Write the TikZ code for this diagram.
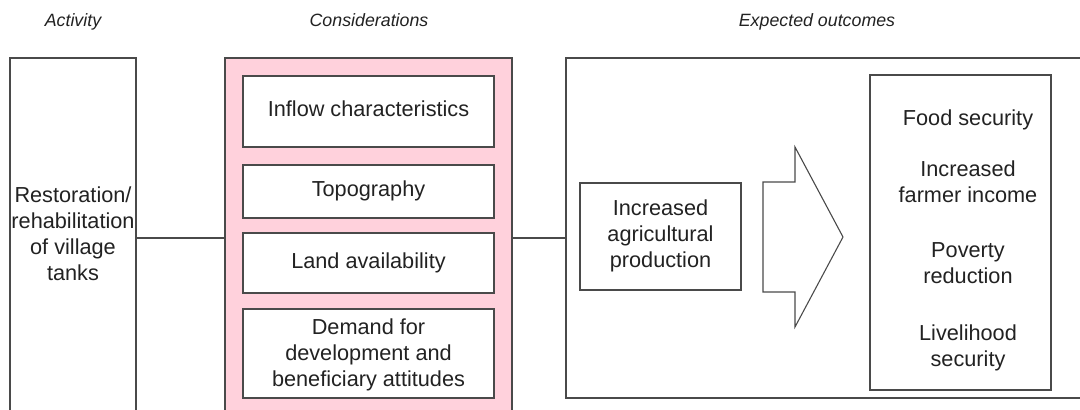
\documentclass[tikz,border=0pt]{standalone}
\usepackage{fontspec}
\setmainfont{Liberation Sans}
\definecolor{linegray}{HTML}{4A4A4A}
\definecolor{pinkfill}{HTML}{FFD1DC}
\definecolor{txtcol}{HTML}{222222}
\begin{document}
\begin{tikzpicture}[x=1pt,y=-1pt,
  box/.style={draw=linegray, line width=1.1pt, fill=white, inner sep=0pt, rectangle},
  txt/.style={font=\fontsize{21.7}{26}\selectfont, align=center, text=txtcol, inner sep=0pt},
  head/.style={font=\fontsize{17.8}{20}\selectfont\itshape, text=txtcol, inner sep=0pt, anchor=base},
  conn/.style={draw=linegray, line width=1.1pt}]
\clip (0,0) rectangle (1080,410);
\fill[white] (0,0) rectangle (1080,410);
% headers
\node[head] (h1) at (73,26) {Activity};
\node[head] (h2) at (369,26) {Considerations};
\node[head] (h3) at (817,26) {Expected outcomes};
% activity
\node[box, minimum width=126pt, minimum height=392pt] (act) at (73,254) {};
\node[txt] (actt) at (73,234) {Restoration/\\rehabilitation\\of village\\tanks};
% considerations
\node[box, fill=pinkfill, minimum width=287pt, minimum height=392pt] (cons) at (368.5,254) {};
\node[box, minimum width=251pt, minimum height=71pt] (c1) at (368.5,111.5) {};
\node[txt] at (368.5,108.5) {Inflow characteristics};
\node[box, minimum width=251pt, minimum height=53pt] (c2) at (368.5,191.5) {};
\node[txt] at (368.5,191) {Topography};
\node[box, minimum width=251pt, minimum height=60pt] (c3) at (368.5,263) {};
\node[txt] at (368.5,263) {Land availability};
\node[box, minimum width=251pt, minimum height=89pt] (c4) at (368.5,353.5) {};
\node[txt] at (368.5,354.5) {Demand for\\development and\\beneficiary attitudes};
% outcomes
\node[box, minimum width=540pt, minimum height=340pt] (out) at (836,228) {};
\node[box, minimum width=161pt, minimum height=107pt] (agr) at (660.5,236.5) {};
\node[txt] at (660.5,236) {Increased\\agricultural\\production};
\draw[draw=linegray, line width=1.1pt, fill=white] (763,182) -- (795,182) -- (795,147) -- (843,237) -- (795,327) -- (795,292) -- (763,292) -- cycle;
\node[box, minimum width=181pt, minimum height=315pt] (res) at (960.5,232.5) {};
\node[txt] at (968,120) {Food security};
\node[txt] at (968,182) {Increased\\farmer income};
\node[txt] at (968,263) {Poverty\\reduction};
\node[txt] at (968,348) {Livelihood\\security};
% connectors
\coordinate (mid) at (0,238);
\draw[conn] (act.east |- mid) -- (cons.west |- mid);
\draw[conn] (cons.east |- mid) -- (out.west |- mid);
\end{tikzpicture}
\end{document}
